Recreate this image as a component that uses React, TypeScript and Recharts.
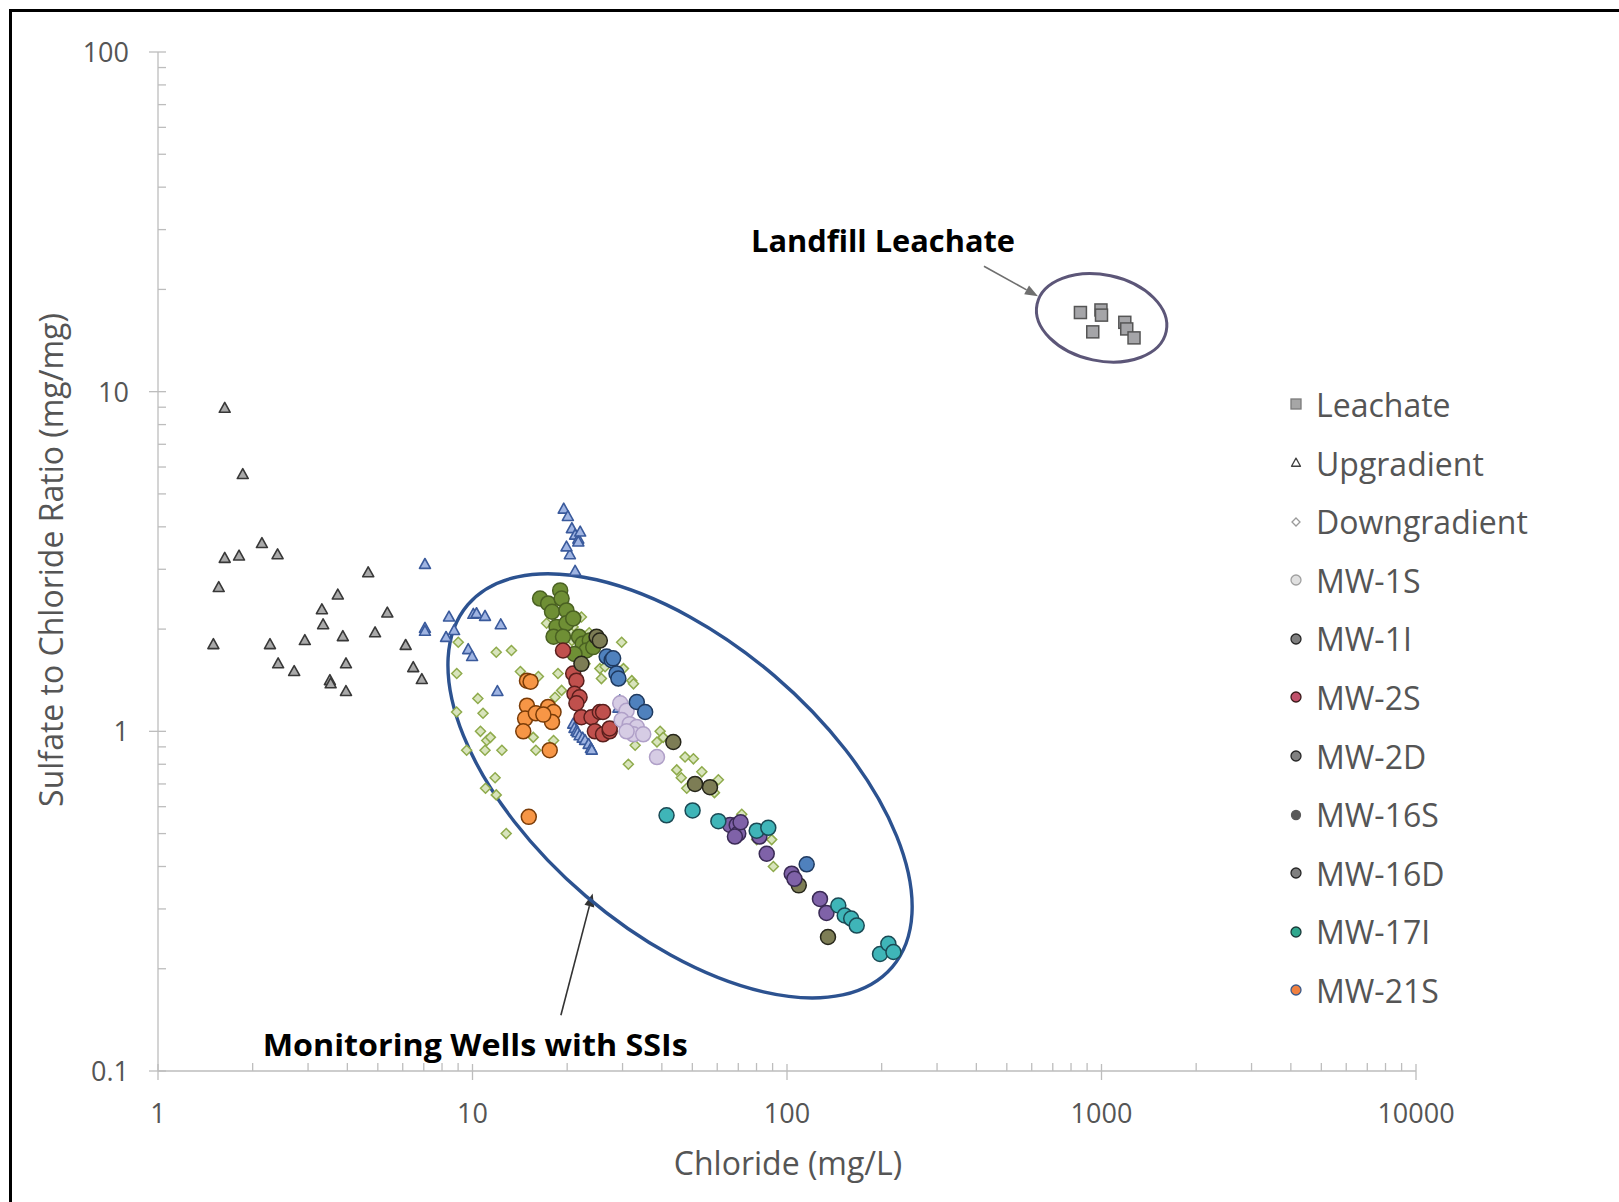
import React from 'react'
import { ScatterChart, Scatter, XAxis, YAxis, ReferenceDot, ReferenceLine } from 'recharts'

type Pt = { x: number; y: number }
const pts = (a: number[][]): Pt[] => a.map(([x, y]) => ({ x, y }))

// values: [chloride mg/L, sulfate/chloride ratio]
const leachate = pts([
  [857, 17.1], [996, 17.4], [1000, 16.8], [938, 15.0], [1186, 16.0], [1203, 15.3], [1269, 14.4],
])

const upgradient = pts([
  [1.63, 8.93], [1.86, 5.7], [1.63, 3.23], [1.81, 3.28], [2.14, 3.57], [2.4, 3.31], [1.56, 2.65],
  [1.5, 1.8], [2.27, 1.8], [2.41, 1.58], [2.71, 1.5], [2.93, 1.85], [3.32, 2.28], [3.35, 2.06],
  [3.73, 2.52], [3.87, 1.9], [3.96, 1.58], [3.52, 1.41], [3.54, 1.38], [3.96, 1.31], [4.66, 2.93],
  [4.9, 1.95], [5.36, 2.23], [6.13, 1.79], [6.48, 1.54], [6.9, 1.42],
])

// upgradient wells drawn in blue in the original
const upgradientBlue = pts([
  [7.06, 3.1], [7.06, 2.01], [7.06, 1.97], [8.42, 2.17], [10.06, 2.21], [10.3, 2.22], [10.96, 2.18],
  [12.3, 2.06], [8.24, 1.89], [8.74, 1.98], [9.69, 1.74], [9.97, 1.66], [12.0, 1.31],
  [19.5, 4.51], [20.1, 4.29], [20.7, 3.95], [21.2, 3.78], [21.7, 3.68], [22.0, 3.86], [20.4, 3.31],
  [21.2, 2.96], [19.9, 3.49], [21.7, 3.61],
  [20.9, 1.05], [21.1, 1.02], [21.4, 1.0], [21.6, 0.99], [21.9, 0.97], [22.4, 0.955], [22.8, 0.94],
  [23.4, 0.915], [23.8, 0.89], [23.95, 0.88], [29.4, 1.23], [29.1, 1.08], [29.1, 1.17],
])

const downgradient = pts([
  [9.01, 1.83], [8.91, 1.48], [10.4, 1.25], [10.8, 1.13], [10.6, 1.0], [11.1, 0.94], [11.4, 0.96],
  [10.96, 0.88], [9.58, 0.88], [12.4, 0.88], [11.9, 1.71], [13.3, 1.73], [14.2, 1.5], [16.2, 1.45],
  [18.7, 1.48], [19.2, 1.32], [18.3, 1.26], [17.9, 1.13], [15.6, 0.96], [15.9, 0.88], [18.1, 0.94],
  [22.2, 2.17], [20.9, 2.03], [21.4, 2.17], [19.7, 2.12], [17.2, 2.08], [20.7, 1.85], [22.8, 1.58],
  [25.4, 1.53], [25.7, 1.43], [26.4, 1.55], [29.1, 1.41], [30.2, 1.53], [32.1, 1.41], [29.8, 1.83],
  [31.3, 0.8], [32.9, 0.91], [39.5, 1.0], [40.4, 0.96], [38.6, 0.93], [47.4, 0.84], [50.4, 0.83],
  [44.6, 0.77], [46.1, 0.73], [48.0, 0.68], [53.6, 0.76], [60.5, 0.72], [58.8, 0.66], [11.9, 0.65],
  [11.8, 0.73], [12.8, 0.5], [8.9, 1.14], [29.5, 1.45], [32.5, 1.38], [71.8, 0.57], [80.1, 0.48],
  [89.4, 0.48], [90.5, 0.4], [11.0, 0.68], [18.0, 2.35], [19.5, 2.3], [20.5, 1.95], [23.5, 1.95],
])

const mw1s = pts([
  [29.5, 1.21], [30.9, 1.15], [29.8, 1.08], [31.6, 1.05], [33.3, 1.03], [32.5, 0.98], [34.9, 0.98],
  [30.9, 1.0], [38.6, 0.84],
])
const mw1i = pts([
  [26.7, 1.66], [27.7, 1.62], [28.0, 1.64], [28.7, 1.48], [29.1, 1.43], [33.3, 1.22], [35.4, 1.14],
  [115.5, 0.406],
])
const mw2s = pts([
  [19.4, 1.73], [20.9, 1.48], [21.4, 1.41], [21.1, 1.29], [21.9, 1.26], [21.4, 1.21], [22.2, 1.1],
  [23.9, 1.1], [25.4, 1.14], [24.5, 1.0], [26.0, 0.98], [27.3, 1.0], [26.0, 1.14], [27.3, 1.02],
])
const mw2d = pts([
  [22.2, 1.58], [24.8, 1.9], [25.4, 1.85], [43.5, 0.93], [51.0, 0.7], [56.9, 0.685], [135, 0.248],
  [109, 0.352],
])
const mw16s = pts([
  [16.4, 2.46], [17.4, 2.38], [19.0, 2.6], [19.2, 2.46], [17.9, 2.25], [19.9, 2.27], [18.5, 2.03],
  [19.9, 2.08], [18.1, 1.9], [19.4, 1.9], [20.9, 2.15], [21.8, 1.9], [22.4, 1.81], [23.6, 1.85],
  [23.0, 1.73], [21.1, 1.69], [24.2, 1.77],
])
const mw16d = pts([
  [65.9, 0.53], [69.2, 0.53], [70.0, 0.5], [68.3, 0.49], [71.2, 0.54], [81.7, 0.49], [86.2, 0.436],
  [103.5, 0.381], [105.6, 0.368], [127.3, 0.321], [133.5, 0.292],
])
const mw17i = pts([
  [41.4, 0.566], [50.1, 0.585], [60.5, 0.544], [80.1, 0.51], [87.2, 0.52], [145.6, 0.307],
  [152.6, 0.287], [160, 0.281], [166.6, 0.268], [197.6, 0.221], [210, 0.237], [218, 0.224],
])
const mw21s = pts([
  [14.9, 1.41], [15.3, 1.4], [14.9, 1.19], [14.7, 1.09], [15.9, 1.13], [17.4, 1.18], [18.1, 1.14],
  [17.9, 1.065], [14.5, 1.0], [17.6, 0.88], [15.1, 0.56], [16.8, 1.12],
])

const xMajor = [1, 10, 100, 1000, 10000]
const yMajor = [0.1, 1, 10, 100]
const minorSteps = [2, 3, 4, 5, 6, 7, 8, 9]
const legendNames = [
  'Leachate', 'Upgradient', 'Downgradient', 'MW-1S', 'MW-1I', 'MW-2S', 'MW-2D', 'MW-16S', 'MW-16D',
  'MW-17I', 'MW-21S',
]

const withMinors = (majors: number[]) => {
  const out: number[] = []
  majors.forEach((m, i) => {
    out.push(m)
    if (i < majors.length - 1) minorSteps.forEach(k => out.push(m * k))
  })
  return out
}
const xTicks = withMinors(xMajor)
const yTicks = withMinors(yMajor)

const FONT = '"Open Sans", "Segoe UI", sans-serif'
const TXT = '#555555'
const AXIS = '#bdbdbd'

type Kind = 'circle' | 'square' | 'triangle' | 'diamond'

function mark(kind: Kind, cx: number, cy: number, s: number, fill: string, stroke: string, sw: number) {
  if (kind === 'square')
    return <rect x={cx - s / 2} y={cy - s / 2} width={s} height={s} fill={fill} stroke={stroke} strokeWidth={sw} />
  if (kind === 'triangle') {
    const h = s * 0.9
    return (
      <polygon
        points={`${cx},${cy - h * 0.6} ${cx - s / 2},${cy + h * 0.4} ${cx + s / 2},${cy + h * 0.4}`}
        fill={fill} stroke={stroke} strokeWidth={sw} strokeLinejoin="round"
      />
    )
  }
  if (kind === 'diamond')
    return (
      <polygon
        points={`${cx},${cy - s / 2} ${cx + s / 2},${cy} ${cx},${cy + s / 2} ${cx - s / 2},${cy}`}
        fill={fill} stroke={stroke} strokeWidth={sw}
      />
    )
  return <circle cx={cx} cy={cy} r={s / 2} fill={fill} stroke={stroke} strokeWidth={sw} />
}

// draw order: background groups first, monitoring wells on top
const series = [
  { name: 'Upgradient', data: upgradient, kind: 'triangle' as Kind, size: 11, fill: '#a9a9a9', stroke: '#383838', sw: 1.6 },
  { name: 'Upgradient blue', data: upgradientBlue, kind: 'triangle' as Kind, size: 11, fill: '#9fb4e2', stroke: '#3a5a9c', sw: 1.6 },
  { name: 'Downgradient', data: downgradient, kind: 'diamond' as Kind, size: 10, fill: '#d8e4bc', stroke: '#8fab4c', sw: 1.5 },
  { name: 'MW-16S', data: mw16s, kind: 'circle' as Kind, size: 15, fill: '#6f8f35', stroke: '#4a6122', sw: 1.5 },
  { name: 'MW-21S', data: mw21s, kind: 'circle' as Kind, size: 15, fill: '#f79646', stroke: '#7a3c08', sw: 1.5 },
  { name: 'MW-2S', data: mw2s, kind: 'circle' as Kind, size: 15, fill: '#c0504d', stroke: '#5a1f1d', sw: 1.5 },
  { name: 'MW-1S', data: mw1s, kind: 'circle' as Kind, size: 15, fill: '#d6cce4', stroke: '#b0a0c8', sw: 1.5 },
  { name: 'MW-1I', data: mw1i, kind: 'circle' as Kind, size: 15, fill: '#4f81bd', stroke: '#1f3a60', sw: 1.5 },
  { name: 'MW-2D', data: mw2d, kind: 'circle' as Kind, size: 15, fill: '#7d7d55', stroke: '#26261a', sw: 1.5 },
  { name: 'MW-16D', data: mw16d, kind: 'circle' as Kind, size: 15, fill: '#7f62a8', stroke: '#3a2a55', sw: 1.5 },
  { name: 'MW-17I', data: mw17i, kind: 'circle' as Kind, size: 15, fill: '#3fb5b8', stroke: '#1a4a55', sw: 1.5 },
  { name: 'Leachate', data: leachate, kind: 'square' as Kind, size: 12, fill: '#a5a5a8', stroke: '#555555', sw: 1.5 },
]

// legend markers in the scan are small and mostly greyed out
const legendMarks: Record<string, { kind: Kind; fill: string; stroke: string; size: number }> = {
  Leachate: { kind: 'square', fill: '#a6a6a6', stroke: '#7a7a7a', size: 10 },
  Upgradient: { kind: 'triangle', fill: '#ffffff', stroke: '#404040', size: 9 },
  Downgradient: { kind: 'diamond', fill: '#ffffff', stroke: '#9a9a9a', size: 8 },
  'MW-1S': { kind: 'circle', fill: '#e0e0e0', stroke: '#a0a0a0', size: 10 },
  'MW-1I': { kind: 'circle', fill: '#7f7f7f', stroke: '#262626', size: 10 },
  'MW-2S': { kind: 'circle', fill: '#c0506a', stroke: '#3a1a1a', size: 10 },
  'MW-2D': { kind: 'circle', fill: '#808080', stroke: '#262626', size: 10 },
  'MW-16S': { kind: 'circle', fill: '#5a5a5a', stroke: '#5a5a5a', size: 9 },
  'MW-16D': { kind: 'circle', fill: '#808080', stroke: '#262626', size: 10 },
  'MW-17I': { kind: 'circle', fill: '#30a88e', stroke: '#1a3a3a', size: 10 },
  'MW-21S': { kind: 'circle', fill: '#f08040', stroke: '#3a5a8a', size: 10 },
}

const XTick = ({ x, y, payload }: any) => {
  const v = payload.value
  const major = xMajor.includes(v)
  return (
    <g>
      <line x1={x} x2={x} y1={y - (major ? 7 : 8)} y2={major ? y + 9 : y} stroke={AXIS} strokeWidth={1.3} />
      {major && (
        <text x={x} y={y + 52} textAnchor="middle" fontSize={27} fill={TXT} fontFamily={FONT}>
          {v}
        </text>
      )}
    </g>
  )
}

const YTick = ({ x, y, payload }: any) => {
  const v = payload.value
  const major = yMajor.includes(v)
  return (
    <g>
      <line x1={major ? x - 9 : x} x2={x + 8} y1={y} y2={y} stroke={AXIS} strokeWidth={1.3} />
      {major && (
        <text x={x - 29} y={y + 10} textAnchor="end" fontSize={27} fill={TXT} fontFamily={FONT}>
          {v}
        </text>
      )}
    </g>
  )
}

const arrow = (color: string) => (p: any) => {
  const { x1, y1, x2, y2 } = p
  const a = Math.atan2(y2 - y1, x2 - x1)
  const L = 13, W = 5
  const bx = x2 - L * Math.cos(a), by = y2 - L * Math.sin(a)
  const nx = -Math.sin(a) * W, ny = Math.cos(a) * W
  return (
    <g>
      <line x1={x1} y1={y1} x2={bx} y2={by} stroke={color} strokeWidth={1.6} />
      <polygon points={`${x2},${y2} ${bx + nx},${by + ny} ${bx - nx},${by - ny}`} fill={color} />
    </g>
  )
}

const ring = (rx: number, ry: number, rot: number, color: string, w: number) => (p: any) => (
  <ellipse
    cx={p.cx} cy={p.cy} rx={rx} ry={ry} fill="none" stroke={color} strokeWidth={w}
    transform={`rotate(${rot} ${p.cx} ${p.cy})`}
  />
)

const note = (text: string, len: number) => (p: any) => (
  <text
    x={p.cx} y={p.cy} textAnchor="middle" fontSize={30} fontWeight={700} fill="#000"
    fontFamily={FONT} textLength={len} lengthAdjust="spacingAndGlyphs"
  >
    {text}
  </text>
)

export default function App() {
  return (
    <div style={{ position: 'absolute', left: 0, top: 0, width: 1619, height: 1202, overflow: 'hidden', background: '#fff' }}>
      <div style={{ position: 'absolute', left: 9, top: 9, width: 1700, height: 1300, borderLeft: '3px solid #000', borderTop: '3px solid #000' }} />
      <ScatterChart width={1619} height={1202} margin={{ top: 52, right: 203, bottom: 0, left: 0 }}>
        <XAxis
          type="number" dataKey="x" scale="log" domain={[1, 10000]} allowDataOverflow
          ticks={xTicks} interval={0} tick={<XTick />} tickLine={false} tickSize={0} tickMargin={0}
          axisLine={{ stroke: AXIS, strokeWidth: 1.3 }} height={131}
          label={{
            content: () => (
              <text x={788} y={1175} textAnchor="middle" fontSize={32} fill={TXT} fontFamily={FONT}>
                Chloride (mg/L)
              </text>
            ),
          }}
        />
        <YAxis
          type="number" dataKey="y" scale="log" domain={[0.1, 100]} allowDataOverflow
          ticks={yTicks} interval={0} tick={<YTick />} tickLine={false} tickSize={0} tickMargin={0}
          axisLine={{ stroke: AXIS, strokeWidth: 1.3 }} width={158}
          label={{
            content: () => (
              <text transform="translate(63,560) rotate(-90)" textAnchor="middle" fontSize={32} fill={TXT} fontFamily={FONT}>
                Sulfate to Chloride Ratio (mg/mg)
              </text>
            ),
          }}
        />

        <ReferenceDot x={45.7} y={0.691} r={0} ifOverflow="visible" shape={ring(279, 145, 40.5, '#2c5290', 3.4)} />
        <ReferenceDot x={1001} y={16.5} r={0} ifOverflow="visible" shape={ring(66, 43, 12, '#5c5678', 3)} />

        {series.map(s => (
          <Scatter
            key={s.name}
            name={s.name}
            data={s.data}
            isAnimationActive={false}
            shape={(p: any) => mark(s.kind, p.cx, p.cy, s.size, s.fill, s.stroke, s.sw)}
          />
        ))}

        <ReferenceLine segment={[{ x: 423, y: 23.4 }, { x: 628, y: 19.1 }]} ifOverflow="visible" shape={arrow('#6f6f6f')} />
        <ReferenceLine segment={[{ x: 19.1, y: 0.146 }, { x: 24.1, y: 0.333 }]} ifOverflow="visible" shape={arrow('#333333')} />
        <ReferenceDot x={202} y={25.8} r={0} ifOverflow="visible" shape={note('Landfill Leachate', 264)} />
        <ReferenceDot x={10.2} y={0.111} r={0} ifOverflow="visible" shape={note('Monitoring Wells with SSIs', 425)} />
      </ScatterChart>

      <div style={{ position: 'absolute', left: 1282, top: 375.2, fontFamily: FONT, color: TXT, fontSize: 32 }}>
        {legendNames.map(n => {
          const m = legendMarks[n]
          return (
            <div key={n} style={{ display: 'flex', alignItems: 'center', height: 58.6, whiteSpace: 'nowrap' }}>
              <svg width={28} height={20} style={{ display: 'block', marginRight: 6 }}>
                {mark(m.kind, 14, 10, m.size, m.fill, m.stroke, 1.3)}
              </svg>
              <span>{n}</span>
            </div>
          )
        })}
      </div>
    </div>
  )
}
